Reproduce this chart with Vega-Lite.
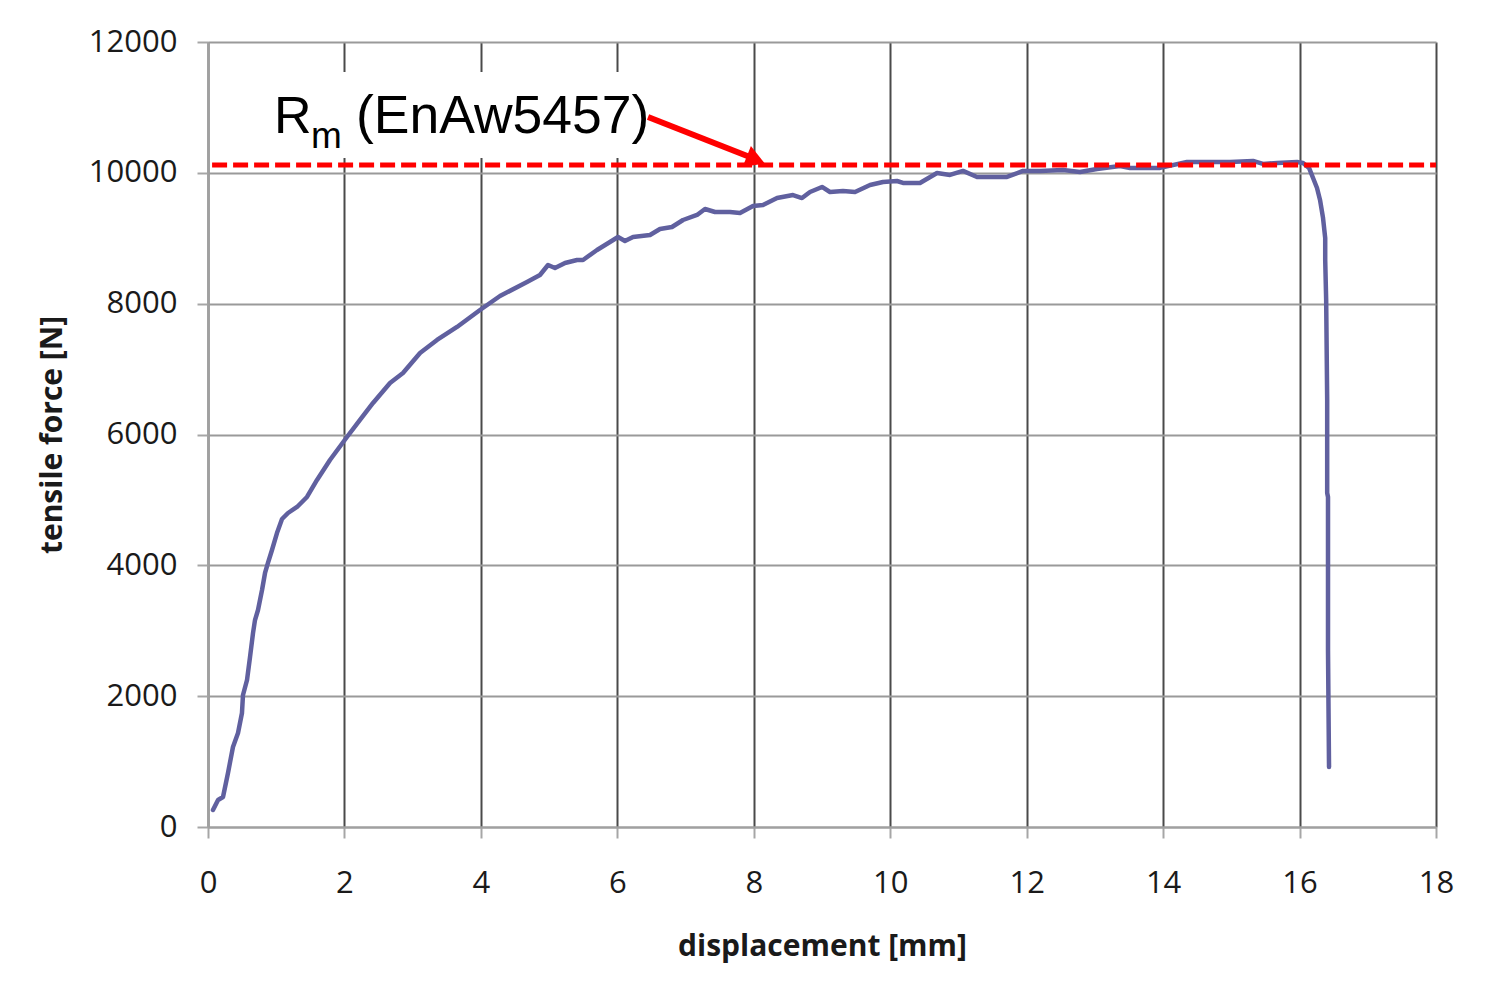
{
  "$schema": "https://vega.github.io/schema/vega-lite/v6.json",
  "width": 1228,
  "height": 785,
  "autosize": {"type": "none"},
  "padding": {"left": 208, "top": 42, "right": 68, "bottom": 159},
  "background": "white",
  "config": {
    "view": {"stroke": null},
    "axis": {"labelFont": "Open Sans", "titleFont": "Open Sans", "labelColor": "#1a1a1a", "titleColor": "#1a1a1a"}
  },
  "encoding": {
    "x": {
      "field": "x", "type": "quantitative",
      "scale": {"domain": [0, 18], "nice": false, "zero": false},
      "axis": {
        "title": "displacement [mm]",
        "values": [0, 2, 4, 6, 8, 10, 12, 14, 16, 18],
        "format": "d",
        "grid": true, "gridColor": "#4a4a4a", "gridWidth": 2,
        "domainColor": "#a0a0a0", "domainWidth": 2,
        "tickColor": "#a6a6a6", "tickSize": 11, "tickWidth": 2,
        "labelFontSize": 31, "labelPadding": 30, "labelFlush": false, "labelOverlap": false,
        "titleFontSize": 30, "titleFontWeight": "bold", "titlePadding": 33
      }
    },
    "y": {
      "field": "y", "type": "quantitative",
      "scale": {"domain": [0, 12000], "nice": false},
      "axis": {
        "title": "tensile force [N]",
        "values": [0, 2000, 4000, 6000, 8000, 10000, 12000],
        "format": "d",
        "grid": true, "gridColor": "#9a9a9a", "gridWidth": 2,
        "domainColor": "#a0a0a0", "domainWidth": 2,
        "tickColor": "#a6a6a6", "tickSize": 11, "tickWidth": 2,
        "labelFontSize": 31, "labelPadding": 20, "labelOverlap": false,
        "titleFontSize": 30, "titleFontWeight": "bold", "titlePadding": 21
      }
    }
  },
  "layer": [
    {
      "data": {"values": [{"x": 0.84, "x2": 6.5, "y": 10227, "y2": 11542}]},
      "mark": {"type": "rect", "fill": "white", "stroke": null},
      "encoding": {"x2": {"field": "x2"}, "y2": {"field": "y2"}}
    },
    {
      "data": {"values": [
        {"x": 0.073, "y": 260}, {"x": 0.147, "y": 413}, {"x": 0.22, "y": 459}, {"x": 0.293, "y": 826},
        {"x": 0.366, "y": 1223}, {"x": 0.44, "y": 1437}, {"x": 0.498, "y": 1743}, {"x": 0.513, "y": 2018},
        {"x": 0.572, "y": 2247}, {"x": 0.616, "y": 2599}, {"x": 0.66, "y": 2966}, {"x": 0.689, "y": 3164},
        {"x": 0.733, "y": 3317}, {"x": 0.792, "y": 3623}, {"x": 0.836, "y": 3883}, {"x": 0.879, "y": 4036},
        {"x": 0.938, "y": 4234}, {"x": 1.011, "y": 4494}, {"x": 1.085, "y": 4708}, {"x": 1.173, "y": 4800},
        {"x": 1.305, "y": 4892}, {"x": 1.451, "y": 5045}, {"x": 1.598, "y": 5305}, {"x": 1.788, "y": 5610},
        {"x": 2.037, "y": 5962}, {"x": 2.228, "y": 6222}, {"x": 2.419, "y": 6482}, {"x": 2.668, "y": 6787},
        {"x": 2.858, "y": 6940}, {"x": 3.108, "y": 7246}, {"x": 3.357, "y": 7445}, {"x": 3.65, "y": 7644},
        {"x": 3.987, "y": 7903}, {"x": 4.28, "y": 8117}, {"x": 4.676, "y": 8331}, {"x": 4.866, "y": 8438},
        {"x": 4.984, "y": 8591}, {"x": 5.086, "y": 8545}, {"x": 5.233, "y": 8622}, {"x": 5.409, "y": 8668},
        {"x": 5.497, "y": 8668}, {"x": 5.702, "y": 8821}, {"x": 5.892, "y": 8943}, {"x": 6.01, "y": 9019},
        {"x": 6.112, "y": 8958}, {"x": 6.23, "y": 9019}, {"x": 6.479, "y": 9050}, {"x": 6.625, "y": 9142},
        {"x": 6.801, "y": 9172}, {"x": 6.963, "y": 9279}, {"x": 7.168, "y": 9356}, {"x": 7.285, "y": 9447},
        {"x": 7.432, "y": 9401}, {"x": 7.651, "y": 9401}, {"x": 7.798, "y": 9386}, {"x": 7.989, "y": 9493},
        {"x": 8.135, "y": 9508}, {"x": 8.341, "y": 9615}, {"x": 8.575, "y": 9661}, {"x": 8.707, "y": 9615},
        {"x": 8.824, "y": 9707}, {"x": 9.0, "y": 9784}, {"x": 9.117, "y": 9707}, {"x": 9.308, "y": 9723},
        {"x": 9.484, "y": 9707}, {"x": 9.704, "y": 9814}, {"x": 9.894, "y": 9860}, {"x": 10.099, "y": 9875},
        {"x": 10.187, "y": 9845}, {"x": 10.436, "y": 9845}, {"x": 10.686, "y": 9998}, {"x": 10.876, "y": 9968},
        {"x": 11.067, "y": 10029}, {"x": 11.272, "y": 9937}, {"x": 11.712, "y": 9937}, {"x": 11.946, "y": 10029},
        {"x": 12.196, "y": 10029}, {"x": 12.533, "y": 10044}, {"x": 12.782, "y": 10013}, {"x": 13.031, "y": 10059},
        {"x": 13.368, "y": 10105}, {"x": 13.515, "y": 10075}, {"x": 13.955, "y": 10075}, {"x": 14.35, "y": 10166},
        {"x": 14.731, "y": 10166}, {"x": 14.981, "y": 10166}, {"x": 15.318, "y": 10182}, {"x": 15.464, "y": 10136},
        {"x": 15.67, "y": 10151}, {"x": 15.963, "y": 10166}, {"x": 16.051, "y": 10151}, {"x": 16.139, "y": 10075},
        {"x": 16.198, "y": 9921}, {"x": 16.256, "y": 9768}, {"x": 16.3, "y": 9585}, {"x": 16.344, "y": 9310},
        {"x": 16.376, "y": 9004}, {"x": 16.376, "y": 8668}, {"x": 16.39, "y": 8056}, {"x": 16.405, "y": 6528},
        {"x": 16.405, "y": 5106}, {"x": 16.417, "y": 5045}, {"x": 16.417, "y": 2706}, {"x": 16.432, "y": 917}
      ]},
      "mark": {"type": "line", "color": "#60609f", "strokeWidth": 4.5, "strokeJoin": "round", "strokeCap": "round"},
      "encoding": {"order": {"value": 0}}
    },
    {
      "data": {"values": [{"x": 0.06, "x2": 18, "y": 10120}]},
      "mark": {"type": "rule", "color": "#ff0000", "strokeWidth": 5, "strokeDash": [15, 6]},
      "encoding": {"x2": {"field": "x2"}}
    },
    {
      "data": {"values": [{"x": 6.45, "x2": 7.97, "y": 10853, "y2": 10230}]},
      "mark": {"type": "rule", "color": "#ff0000", "strokeWidth": 6},
      "encoding": {"x2": {"field": "x2"}, "y2": {"field": "y2"}}
    },
    {
      "data": {"values": [{"x": 8.03, "y": 10196}]},
      "mark": {"type": "point", "shape": "triangle-right", "filled": true, "color": "#ff0000", "opacity": 1, "size": 500, "angle": 21.5}
    },
    {
      "data": {"values": [{"x": 0.967, "y": 10609, "t": "R"}]},
      "mark": {"type": "text", "font": "Liberation Sans", "fontSize": 52, "align": "left", "baseline": "alphabetic", "color": "black"},
      "encoding": {"text": {"field": "t"}}
    },
    {
      "data": {"values": [{"x": 1.51, "y": 10380, "t": "m"}]},
      "mark": {"type": "text", "font": "Liberation Sans", "fontSize": 37, "align": "left", "baseline": "alphabetic", "color": "black"},
      "encoding": {"text": {"field": "t"}}
    },
    {
      "data": {"values": [{"x": 2.169, "y": 10609, "t": "(EnAw5457)"}]},
      "mark": {"type": "text", "font": "Liberation Sans", "fontSize": 53.5, "align": "left", "baseline": "alphabetic", "color": "black"},
      "encoding": {"text": {"field": "t"}}
    }
  ]
}
